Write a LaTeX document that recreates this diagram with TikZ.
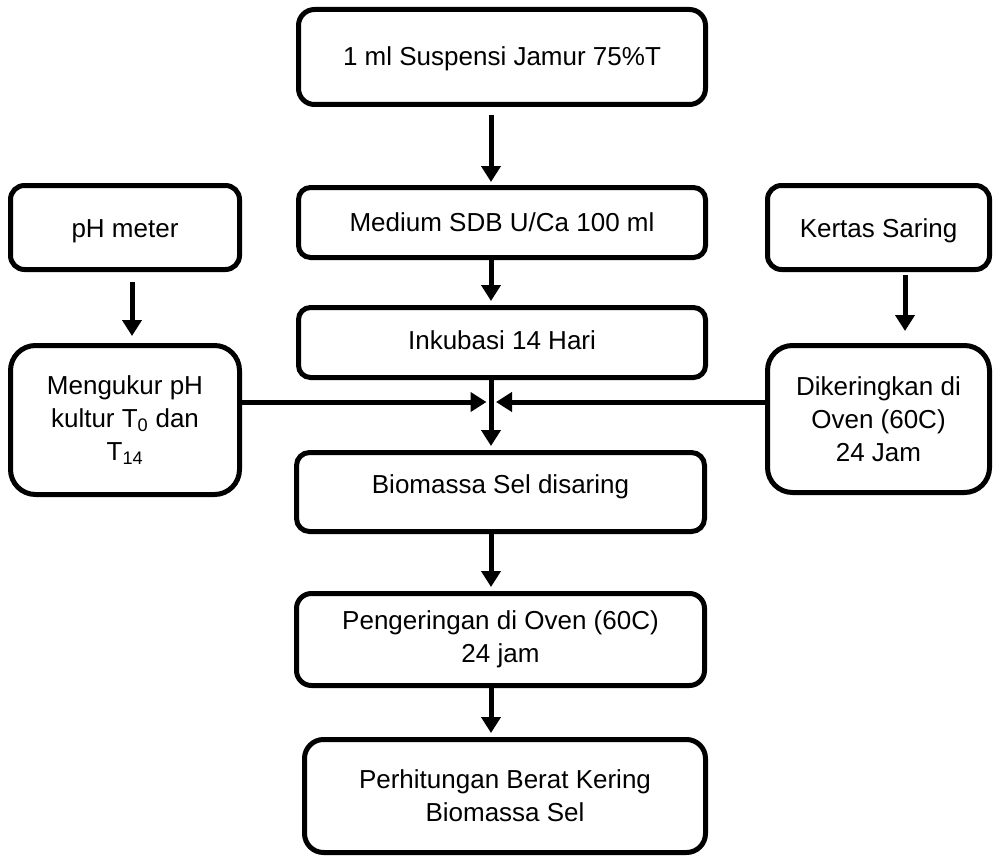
\documentclass[tikz,border=0pt]{standalone}
\usepackage{fontspec}
\setmainfont{Liberation Sans}
\usetikzlibrary{arrows.meta}
\begin{document}
\begin{tikzpicture}[x=1pt,y=-1pt,
  every node/.style={font=\fontsize{26pt}{33pt}\selectfont, align=center, inner sep=0pt},
  box/.style={draw, line width=5pt, rounded corners=#1},
  oneline/.style={text height=19pt, text depth=#1},
  flow/.style={line width=5pt, -{Triangle[length=16pt,width=19pt]}}
]
% page area
\fill[white] (0,0) rectangle (995,856);
\useasboundingbox (0,0) rectangle (995,856);

% main column
\node[box=16pt, oneline=2pt, minimum width=407pt, minimum height=95pt] (b1) at (502,57) {1 ml Suspensi Jamur 75\%T};
\node[box=12pt, oneline=2pt, minimum width=407pt, minimum height=70pt] (b2) at (502,222.5) {Medium SDB U/Ca 100 ml};
\node[box=12pt, oneline=6pt, minimum width=407pt, minimum height=70pt] (b3) at (502,342.5) {Inkubasi 14 Hari};
\node[box=13pt, oneline=16pt, minimum width=408pt, minimum height=79pt] (b4) at (500.5,492) {Biomassa Sel disaring};
\node[box=15pt, minimum width=408pt, minimum height=92pt] (b5) at (500.5,639.5) {Pengeringan di Oven (60C)\\24 jam};
\node[box=19pt, minimum width=401pt, minimum height=113pt] (b6) at (505,796) {Perhitungan Berat Kering\\Biomassa Sel};

% left column
\node[box=14pt, oneline=0pt, minimum width=229pt, minimum height=84pt] (ph) at (125,227.5) {pH meter};
\node[box=25pt, minimum width=229pt, minimum height=149pt] (meng) at (125,420) {Mengukur pH\\kultur T\textsubscript{0} dan\\T\textsubscript{14}};

% right column
\node[box=14pt, oneline=0pt, minimum width=222pt, minimum height=84pt] (ks) at (878.5,227.5) {Kertas Saring};
\node[box=25pt, minimum width=222pt, minimum height=147pt] (dk) at (878.5,419) {Dikeringkan di\\Oven (60C)\\24 Jam};

% guide coordinates for the connectors
\coordinate (spine) at (491,0);
\coordinate (lspine) at (132,0);
\coordinate (rspine) at (905,0);
\coordinate (jl) at (486.5,402);
\coordinate (jr) at (496,402);

% vertical flow
\draw[flow, shorten <=8pt, shorten >=3pt] (b1.south -| spine) -- (b2.north -| spine);
\draw[flow, shorten >=4pt] (b2.south -| spine) -- (b3.north -| spine);
\draw[flow, shorten >=4pt] (b3.south -| spine) -- (b4.north -| spine);
\draw[flow, shorten >=4pt] (b4.south -| spine) -- (b5.north -| spine);
\draw[flow, shorten >=4pt] (b5.south -| spine) -- (b6.north -| spine);

% side inputs
\draw[flow, shorten <=10pt, shorten >=7pt] (ph.south -| lspine) -- (meng.north -| lspine);
\draw[flow, shorten <=3pt, shorten >=12pt] (ks.south -| rspine) -- (dk.north -| rspine);
\draw[flow] (meng.east |- jl) -- (jl);
\draw[flow] (dk.west |- jr) -- (jr);
\end{tikzpicture}
\end{document}
